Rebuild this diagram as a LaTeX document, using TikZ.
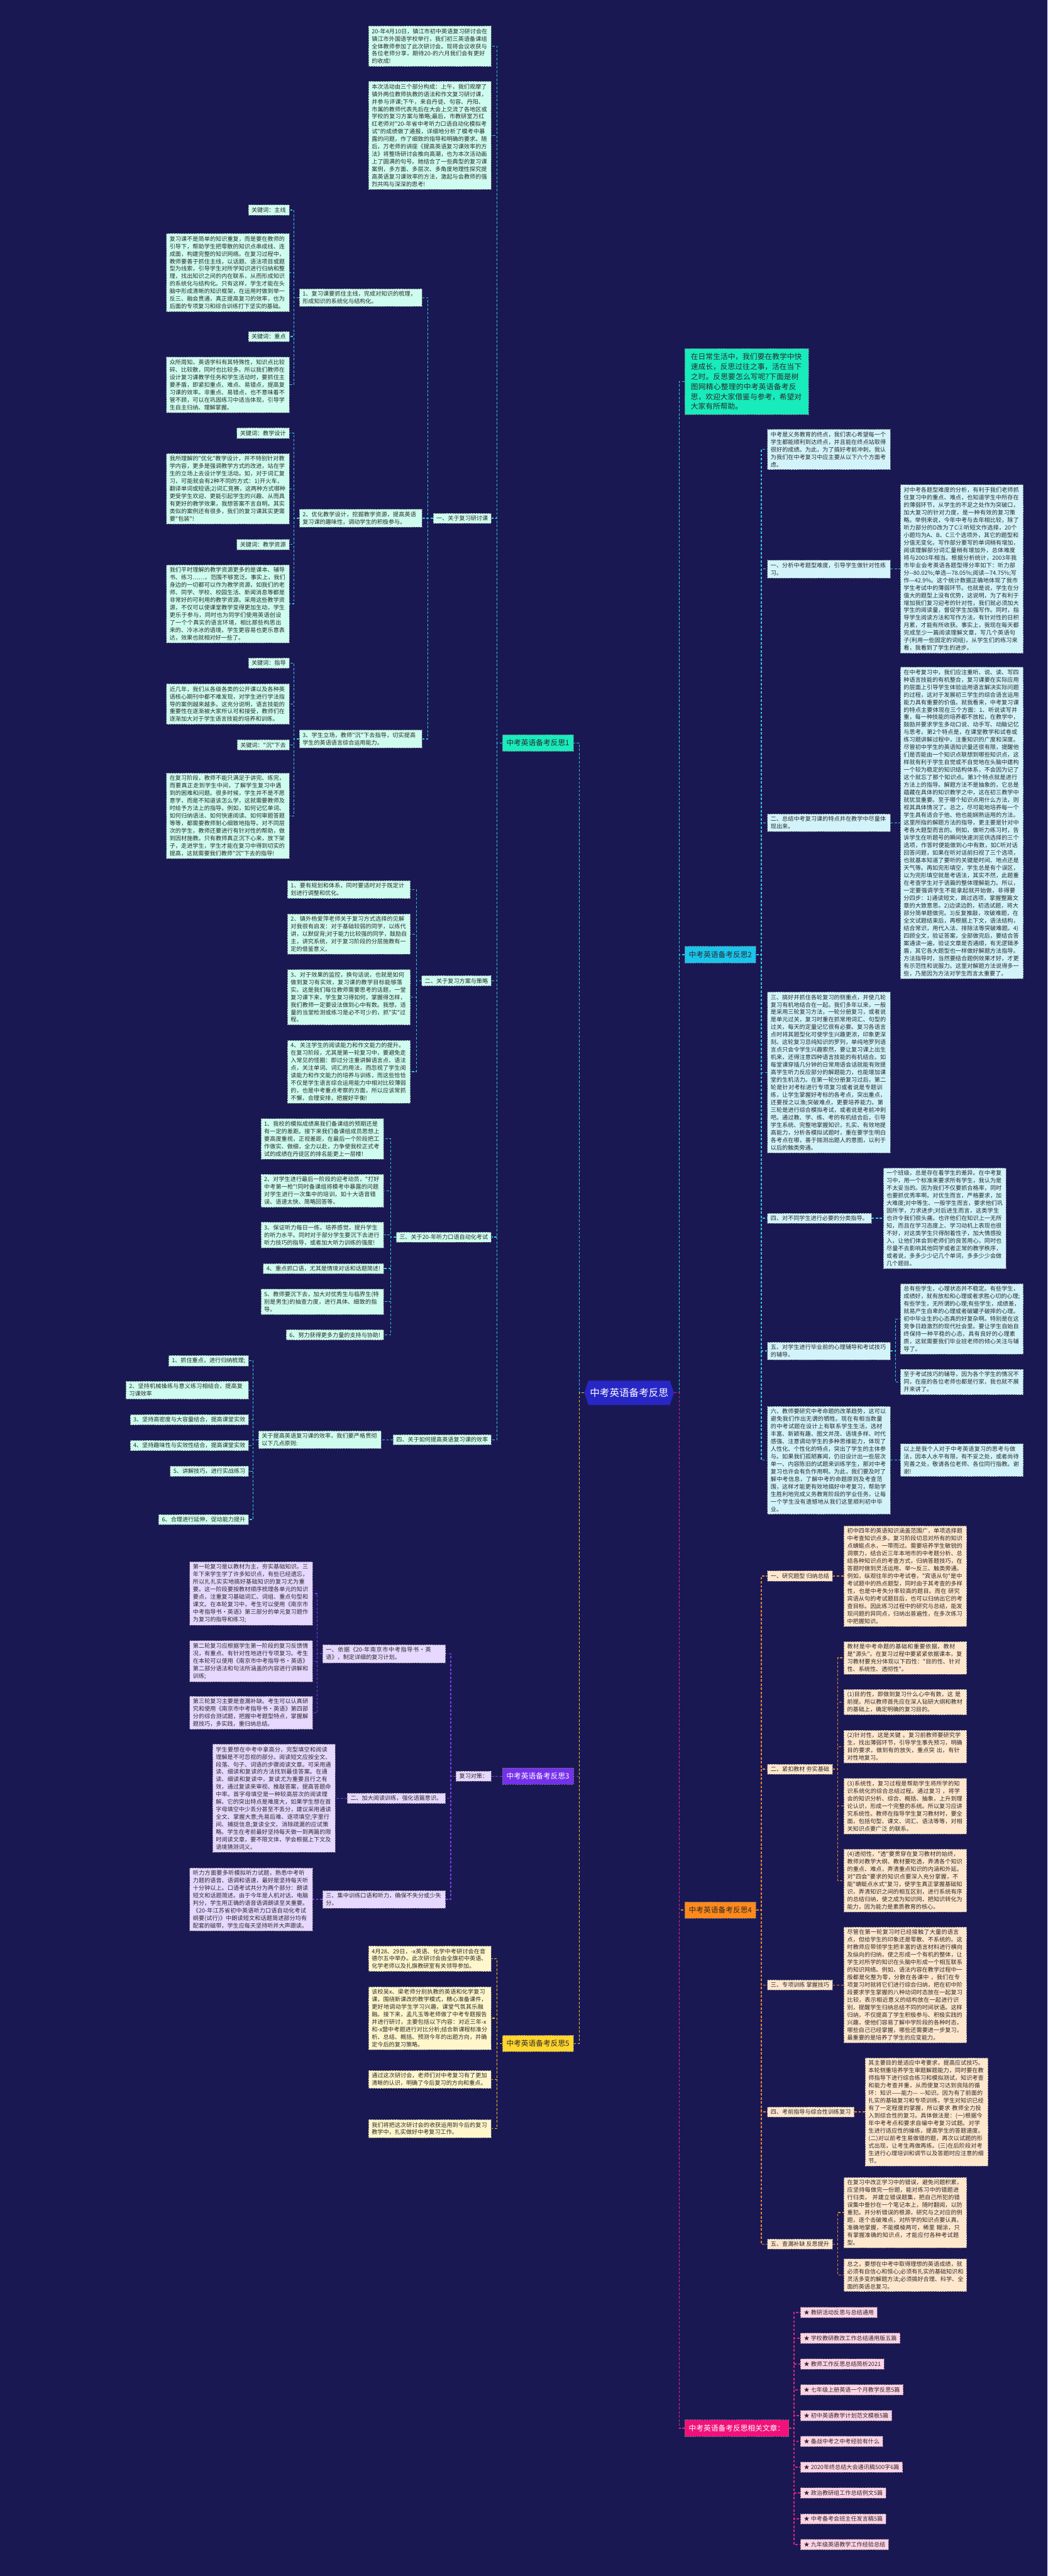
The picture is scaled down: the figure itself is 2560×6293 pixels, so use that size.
\documentclass[tikz,border=0pt]{standalone}
\usepackage{fontspec}
\newfontfamily\cjk{Noto Sans CJK SC}
\usetikzlibrary{shapes.symbols}
\XeTeXlinebreaklocale "zh"
\XeTeXlinebreakskip = 0pt plus 1pt
\definecolor{bgc}{HTML}{1A1853}
\definecolor{bd}{HTML}{6E6E78}
\definecolor{tx}{HTML}{2A2A2A}
\definecolor{fA}{HTML}{CEFCEE}
\definecolor{fB}{HTML}{D2F3FA}
\definecolor{fC}{HTML}{E6D8FF}
\definecolor{fD}{HTML}{FFE7CE}
\definecolor{fE}{HTML}{FFF6CC}
\definecolor{fF}{HTML}{FFD3E6}
\definecolor{lnA}{HTML}{2FC6DF}
\definecolor{lnC}{HTML}{7A3DE6}
\definecolor{lnD}{HTML}{E8842C}
\definecolor{lnE}{HTML}{F2C41C}
\definecolor{lnF}{HTML}{E0237E}
\definecolor{labA}{HTML}{18EBBC}
\definecolor{labB}{HTML}{19C5EC}
\definecolor{labC}{HTML}{7530EC}
\definecolor{labD}{HTML}{FF8A1A}
\definecolor{labE}{HTML}{FFD52E}
\definecolor{labF}{HTML}{F0127A}
\definecolor{ctrc}{HTML}{2727C6}
\tikzset{
  base/.style={font=\cjk\fontsize{14}{18.4}\selectfont, align=left, inner xsep=8pt, inner ysep=6pt, draw=bd, dash pattern=on 4pt off 2pt, line width=0.9pt, text=tx},
  bxA/.style={base, fill=fA, text width=284pt},
  kwA/.style={base, fill=fA},
  bxB/.style={base, fill=fB, text width=284pt},
  bxC/.style={base, fill=fC, text width=284pt},
  kwC/.style={base, fill=fC},
  bxD/.style={base, fill=fD, text width=284pt},
  kwD/.style={base, fill=fD},
  bxE/.style={base, fill=fE, text width=284pt},
  kwF/.style={base, fill=fF},
  lab/.style={font=\cjk\fontsize{18}{22}\selectfont, inner xsep=10pt, inner ysep=12pt, draw=bd, dash pattern=on 4pt off 2pt, line width=0.9pt},
  cA/.style={draw=lnA, line width=2pt, dash pattern=on 6pt off 4pt},
  cC/.style={draw=lnC, line width=2pt, dash pattern=on 6pt off 4pt},
  cD/.style={draw=lnD, line width=2pt, dash pattern=on 6pt off 4pt},
  cE/.style={draw=lnE, line width=2pt, dash pattern=on 6pt off 4pt},
  cF/.style={draw=lnF, line width=2pt, dash pattern=on 6pt off 4pt},
}
\newcommand\connL[3]{\draw[#1] (#2.west) -- ++(-12.5,0) |- (#3.east);}
\newcommand\connR[3]{\draw[#1] (#2.east) -- ++(12.5,0) |- (#3.west);}
\begin{document}
\begin{tikzpicture}[x=1pt,y=-1pt]
\fill[bgc] (0,0) rectangle (2560,6293);
\useasboundingbox (0,0) rectangle (2560,6293);

% ---------- centre ----------
\fill[ctrc] (1438,3373) -- (1637,3373) -- (1647,3402.5) -- (1637,3432) -- (1438,3432) -- (1428,3402.5) -- cycle;
\node[font=\cjk\fontsize{24}{28}\selectfont, text=white, minimum width=219pt, minimum height=59pt, inner sep=0pt] (ctr) at (1537.5,3402.5) {中考英语备考反思};

% ---------- main labels ----------
\node[lab, fill=labA, text=tx, anchor=east] (L1) at (1402,1815) {中考英语备考反思1};
\node[lab, fill=labC, text=white, anchor=east] (L3) at (1402,4339) {中考英语备考反思3};
\node[lab, fill=labE, text=tx, anchor=east] (L5) at (1402,4992) {中考英语备考反思5};
\node[lab, fill=labB, text=tx, anchor=west] (L2) at (1673,2332) {中考英语备考反思2};
\node[lab, fill=labD, text=tx, anchor=west] (L4) at (1673,4666) {中考英语备考反思4};
\node[lab, fill=labF, text=white, anchor=west] (Lr) at (1673,5932) {中考英语备考反思相关文章：};
\node[font=\cjk\fontsize{18}{24.5}\selectfont, align=left, text width=273pt, inner xsep=15pt, inner ysep=11pt, fill=labA, draw=bd, dash pattern=on 4pt off 2pt, line width=0.9pt, text=tx, anchor=west] (intro) at (1673,932) {在日常生活中，我们要在教学中快速成长，反思过往之事，活在当下之时。反思要怎么写呢?下面是树图网精心整理的中考英语备考反思，欢迎大家借鉴与参考，希望对大家有所帮助。};

% ---------- branch 1 ----------
\node[bxA, anchor=east] (A1) at (1201,113) {20-年4月10日，镇江市初中英语复习研讨会在镇江市外国语学校举行，我们初三英语备课组全体教师参加了此次研讨会。现将会议收获与各位老师分享，期待20-的六月我们会有更好的收成!};
\node[bxA, anchor=east] (A2) at (1201,331) {本次活动由三个部分构成：上午，我们观摩了镇外两位教师执教的语法和作文复习研讨课，并参与评课;下午，来自丹徒、句容、丹阳、市属的教师代表先后在大会上交流了各地区或学校的复习方案与策略;最后，市教研室万红红老师对"20-年省中考听力口语自动化模拟考试"的成绩做了通报，详细地分析了模考中暴露的问题，作了细致的指导和明确的要求。随后，万老师的讲座《提高英语复习课效率的方法》将整场研讨会推向高潮，也为本次活动画上了圆满的句号。她结合了一些典型的复习课案例，多方面、多层次、多角度地理性探究提高英语复习课效率的方法，激起与会教师的强烈共鸣与深深的思考!};
\node[kwA, anchor=east] (B1) at (1201,1266) {一、关于复习研讨课};
\node[kwA, anchor=east] (B2) at (1201,2396) {二、关于复习方案与策略};
\node[kwA, anchor=east] (B3) at (1201,3022) {三、关于20-年听力口语自动化考试};
\node[kwA, anchor=east] (B4) at (1201,3517) {四、关于如何提高英语复习课的效率};

\node[bxA, anchor=east] (i1) at (1032,727) {1、复习课要抓住主线，完成对知识的梳理，形成知识的系统化与结构化。};
\node[bxA, anchor=east] (i2) at (1032,1266) {2、优化教学设计，挖掘教学资源，提高英语复习课的趣味性，调动学生的积极参与。};
\node[bxA, anchor=east] (i3) at (1032,1805) {3、学生立场，教师"沉"下去指导，切实提高学生的英语语言综合运用能力。};

\node[kwA, anchor=east] (k11) at (707,513) {关键词：主线};
\node[bxA, anchor=east] (t11) at (707,666) {复习课不是简单的知识重复，而是要在教师的引导下，帮助学生把零散的知识点串成线、连成面，构建完整的知识网络。在复习过程中，教师要善于抓住主线，以话题、语法项目或题型为线索，引导学生对所学知识进行归纳和整理，找出知识之间的内在联系，从而形成知识的系统化与结构化。只有这样，学生才能在头脑中形成清晰的知识框架，在运用时做到举一反三、融会贯通，真正提高复习的效率，也为后面的专项复习和综合训练打下坚实的基础。};
\node[kwA, anchor=east] (k12) at (707,822) {关键词：重点};
\node[bxA, anchor=east] (t12) at (707,940) {众所周知，英语学科有其特殊性，知识点比较碎、比较散，同时也比较多。所以我们教师在设计复习课教学任务和学生活动时，要抓住主要矛盾，即紧扣重点、难点、易错点，提高复习课的效率。非重点、易错点，也不意味着不管不顾，可以在巩固练习中适当体现，引导学生自主归纳、理解掌握。};
\node[kwA, anchor=east] (k21) at (707,1058) {关键词：教学设计};
\node[bxA, anchor=east] (t21) at (707,1194) {我所理解的"优化"教学设计，并不特别针对教学内容，更多是强调教学方式的改进，站在学生的立场上去设计学生活动。如，对于词汇复习，可能就会有2种不同的方式：1)开火车，翻译单词或短语;2)词汇竞赛，这两种方式哪种更受学生欢迎、更能引起学生的兴趣、从而具有更好的教学效果，我想答案不言自明。其实类似的案例还有很多，我们的复习课其实更需要"包装"!};
\node[kwA, anchor=east] (k22) at (707,1330) {关键词：教学资源};
\node[bxA, anchor=east] (t22) at (707,1475) {我们平时理解的教学资源更多的是课本、辅导书、练习……，范围不够宽泛。事实上，我们身边的一切都可以作为教学资源，如我们的老师、同学、学校、校园生活、新闻消息等都是非常好的可利用的教学资源。采用这些教学资源，不仅可以使课堂教学变得更加生动，学生更乐于参与，同时也为同学们使用英语创设了一个个真实的语言环境，相比那些构思出来的、冷冰冰的语境，学生更容易也更乐意表达，效果也就相对好一些了。};
\node[kwA, anchor=east] (k31) at (707,1620) {关键词：指导};
\node[bxA, anchor=east] (t31) at (707,1720) {近几年，我们从各级各类的公开课以及各种英语核心期刊中都不难发现，对学生进行学法指导的案例越来越多。这充分说明，语言技能的重要性在逐渐被大家所认可和接受，教师们在逐渐加大对于学生语言技能的培养和训练。};
\node[kwA, anchor=east] (k32) at (707,1820) {关键词："沉"下去};
\node[bxA, anchor=east] (t32) at (707,1993) {在复习阶段，教师不能只满足于讲完、练完，而要真正走到学生中间，了解学生复习中遇到的困难和问题。很多时候，学生并不是不愿意学，而是不知道该怎么学，这就需要教师及时给予方法上的指导。例如，如何记忆单词、如何归纳语法、如何快速阅读、如何审题答题等等，都需要教师耐心细致地指导。对不同层次的学生，教师还要进行有针对性的帮助，做到因材施教。只有教师真正沉下心来，放下架子，走进学生，学生才能在复习中得到切实的提高，这就需要我们教师"沉"下去的指导!};

\node[bxA, anchor=east] (j1) at (1003,2173) {1、要有规划和体系，同时要适时对于既定计划进行调整和优化。};
\node[bxA, anchor=east] (j2) at (1003,2282) {2、镇外杨爱萍老师关于复习方式选择的见解对我很有启发：对于基础较弱的同学，以练代讲，以默促背;对于能力比较强的同学，鼓励自主，讲究系统，对于复习阶段的分层施教有一定的借鉴意义。};
\node[bxA, anchor=east] (j3) at (1003,2436) {3、对于效果的监控，换句话说，也就是如何做到复习有实效，复习课的教学目标能够落实。这是我们每位教师需要思考的话题，一堂复习课下来，学生复习得如何，掌握得怎样，我们教师一定要设法做到心中有数。我想，适量的当堂检测或练习是必不可少的，抓"实"过程。};
\node[bxA, anchor=east] (j4) at (1003,2618) {4、关注学生的阅读能力和作文能力的提升。在复习阶段，尤其是第一轮复习中，要避免走入常见的怪圈：即过分注重讲解语言点、语法点，关注单词、词汇的用法，而忽视了学生阅读能力和作文能力的培养与训练，而这些恰恰不仅是学生语言综合运用能力中相对比较薄弱的，也是中考重点考察的方面，所以应该常抓不懈，合理安排，把握好平衡!};

\node[bxA, anchor=east] (m1) at (938,2782) {1、我校的模拟成绩离我们备课组的预期还是有一定的差距。接下来我们备课组成员思想上要高度重视，正视差距，在最后一个阶段把工作做实、做细，全力以赴，力争使我校正式考试的成绩在丹徒区的排名能更上一层楼!};
\node[bxA, anchor=east] (m2) at (938,2909) {2、对学生进行最后一阶段的迎考动员，"打好中考第一枪"!同时备课组将模考中暴露的问题对学生进行一次集中的培训，如十大语音错误、语速太快、简略回答等。};
\node[bxA, anchor=east] (m3) at (938,3017) {3、保证听力每日一练，培养感觉，提升学生的听力水平。同时对于部分学生要沉下去进行听力技巧的指导，或者加大听力训练的强度!};
\node[kwA, anchor=east] (m4) at (938,3099) {4、重点抓口语，尤其是情境对话和话题简述!};
\node[bxA, anchor=east] (m5) at (938,3180) {5、教师要沉下去，加大对优秀生与临界生(特别是男生)的抽查力度，进行具体、细致的指导。};
\node[kwA, anchor=east] (m6) at (938,3261) {6、努力获得更多力量的支持与协助!};

\node[bxA, anchor=east] (n1) at (932,3517) {关于提高英语复习课的效率，我们要严格贯彻以下几点原则:};
\node[kwA, anchor=east] (p1) at (608,3324) {1、抓住重点，进行归纳梳理;};
\node[bxA, anchor=east] (p2) at (608,3396) {2、坚持机械操练与意义练习相结合，提高复习课效率};
\node[kwA, anchor=east] (p3) at (608,3468) {3、坚持高密度与大容量结合，提高课堂实效};
\node[kwA, anchor=east] (p4) at (608,3531) {4、坚持趣味性与实效性结合，提高课堂实效};
\node[kwA, anchor=east] (p5) at (608,3594) {5、讲解技巧，进行实战练习};
\node[kwA, anchor=east] (p6) at (608,3712) {6、合理进行延伸，促动能力提升};

% ---------- branch 3 ----------
\node[kwC, anchor=east] (q0) at (1201,4339) {复习对策：};
\node[bxC, anchor=east] (q1) at (1089,4040) {一、依据《20-年南京市中考指导书·英语》，制定详细的复习计划。};
\node[kwC, anchor=east] (q2) at (1089,4393) {二、加大阅读训练，强化语篇意识。};
\node[bxC, anchor=east] (q3) at (1089,4640) {三、集中训练口语和听力，确保不失分或少失分。};
\node[bxC, anchor=east] (r1) at (764,3893) {第一轮复习是以教材为主，夯实基础知识。三年下来学生学了许多知识点，有些已经遗忘，所以扎扎实实地搞好基础知识的复习尤为重要。这一阶段要按教材顺序梳理各单元的知识要点，注重复习基础词汇、词组、重点句型和课文。在本轮复习中，考生可以使用《南京市中考指导书·英语》第三部分的单元复习题作为复习的指导和练习;};
\node[bxC, anchor=east] (r2) at (764,4058) {第二轮复习应根据学生第一阶段的复习反馈情况，有重点、有针对性地进行专项复习。考生在本轮可以使用《南京市中考指导书·英语》第二部分语法和句法所涵盖的内容进行讲解和训练;};
\node[bxC, anchor=east] (r3) at (764,4184) {第三轮复习主要是查漏补缺。考生可以认真研究和使用《南京市中考指导书·英语》第四部分的综合测试题，把握中考题型特点，掌握解题技巧，多实践，重归纳总结。};
\node[bxC, anchor=east] (s1) at (820,4393) {学生要想在中考中拿高分，完型填空和阅读理解是不可忽视的部分。阅读短文应按全文、段落、句子、词语的步骤阅读文章。可采用通读、细读和复读的方法找到最佳答案。在通读、细读和复读中，复读尤为重要且行之有效，通过复读来审视、推敲答案，提高答题命中率。首字母填空是一种较高层次的阅读理解。它的突出特点是难度大，如果学生想在首字母填空中少丢分甚至不丢分，建议采用通读全文、掌握大意;先易后难、逐项填空;字里行间、捕捉信息;复读全文、消除疏漏的应试策略。学生在考前最好坚持每天做一到两篇的限时阅读文章，要不限文体，学会根据上下文及语境猜测词义。};
\node[bxC, anchor=east] (u1) at (764,4640) {听力方面要多听模拟听力试题，熟悉中考听力题的语音、语调和语速，最好是坚持每天听十分钟以上。口语考试共分为两个部分：朗读短文和话题简述。由于今年是人机对话，电脑判分，学生用正确的语音语调朗读至关重要。《20-年江苏省初中英语听力口语自动化考试纲要(试行)》中朗读短文和话题简述部分均有配套的磁带，学生应每天坚持听并大声跟读。};

% ---------- branch 5 ----------
\node[bxE, anchor=east] (v1) at (1201,4785) {4月28、29日，-x英语、化学中考研讨会在音德尔五中举办。此次研讨会由全旗初中英语、化学老师以及扎旗教研室有关领导参加。};
\node[bxE, anchor=east] (v2) at (1201,4930) {该校吴x、梁老师分别执教的英语和化学复习课，围绕新课改的教学模式，精心准备课件，更好地调动学生学习兴趣，课堂气氛其乐融融。接下来，孟凡玉等老师做了中考专题报告并进行研讨，主要包括以下内容：对近三年-x和-x盟中考题进行对比分析;结合新课程标准分析、总结、概括、预测今年的出题方向，并确定今后的复习策略。};
\node[bxE, anchor=east] (v3) at (1201,5080) {通过这次研讨会，老师们对中考复习有了更加清晰的认识，明确了今后复习的方向和重点。};
\node[bxE, anchor=east] (v4) at (1201,5200) {我们将把这次研讨会的收获运用到今后的复习教学中，扎实做好中考复习工作。};

% ---------- branch 2 ----------
\node[bxB, anchor=west] (w1) at (1875,1098) {中考是义务教育的终点，我们衷心希望每一个学生都能顺利到达终点，并且能在终点站取得很好的成绩。为此，为了搞好考前冲刺，我认为我们在中考复习中应主要从以下六个方面考虑。};
\node[bxB, anchor=west] (w2) at (1875,1390) {一、分析中考题型难度，引导学生做针对性练习。};
\node[bxB, anchor=west] (w2a) at (2200,1390) {对中考各题型难度的分析，有利于我们老师抓住复习中的重点、难点，也知道学生中所存在的薄弱环节，从学生的不足之处作为突破口，加大复习的针对力度，是一种有效的复习策略。举例来说，今年中考与去年相比较，除了听力部分的D改为了C②听短文作选择，20个小题均为A、B、C三个选项外，其它的题型和分值无变化，写作部分要写的单词稍有增加，阅读理解部分词汇量稍有增加外，总体难度将与2003年相当。根据分析统计，2003年我市毕业会考英语各题型得分率如下：听力部分--80.02\%;单选—78.05\%;阅读—74.75\%;写作—42.9\%。这个统计数据正确地体现了我市学生考试中的薄弱环节。也就是说，学生在分值大的题型上没有优势，这说明，为了有利于增加我们复习迎考的针对性，我们就必须加大学生的阅读量，督促学生加强写作。同时，指导学生阅读方法和写作方法，有针对性的日积月累，才能有所收获。事实上，我现在每天都完成至少一篇阅读理解文章，写几个英语句子(利用一些固定的词组)，从学生们的练习来看，我看到了学生的进步。};
\node[bxB, anchor=west] (w3) at (1875,2010) {二、总结中考复习课的特点并在教学中尽量体现出来。};
\node[bxB, anchor=west] (w3a) at (2200,2010) {在中考复习中，我们应注重听、说、读、写四种语言技能的有机整合，复习课要在实际应用的层面上引导学生体验运用语言解决实际问题的过程，这对于发展初三学生的综合语言运用能力具有重要的价值。就我看来，中考复习课的特点主要体现在三个方面：1、听说读写并重，每一种技能的培养都不放松，在教学中，鼓励并要求学生多动口说、动手写、动脑记忆与思考。第2个特点是，在课堂教学和试卷或练习题讲解过程中，注重知识的广度和深度。尽管初中学生的英语知识量还很有限，提醒他们是否能由一个知识点联想到哪些知识点，这样就有利于学生自觉或不自觉地在头脑中建构一个较为稳定的知识结构体系，不会因为记了这个就忘了那个知识点。第3个特点就是进行方法上的指导。解题方法不是抽象的，它总是蕴藏在具体的知识教学之中，这在初三教学中就犹显重要。至于哪个知识点用什么方法，则视其具体情况了。总之，尽可能地培养每一个学生具有适合于他、他也能娴熟运用的方法。这里所指的解题方法的指导，更主要是针对中考各大题型而言的。例如，做听力练习时，告诉学生在听题号的瞬间快速浏览供选择的三个选项，作答时便能做到心中有数，如C听对话回答问题，如果在听对话前扫视了三个选项，也就基本知道了要听的关键是时间、地点还是天气等。再如完形填空，学生总是有个误区，以为完形填空就是考语法，其实不然，此题重在考查学生对于语篇的整体理解能力。所以，一定要强调学生不能拿起就开始做，非得要分四步：1)通读短文，跳过选项，掌握整篇文章的大致意思。2)边读边酌，初选试题，将大部分简单题做完。3)反复推敲，攻破难题，在全文试题结束后，再根据上下文，语法结构，结合常识，用代入法、排除法等突破难题。4)四顾全文，验证答案，全部做完后，要结合答案通读一遍，验证文章是否通顺，有无逻辑矛盾，其它各大题型也一样做好解题方法指导。方法指导时，当然要结合题例效果才好，才更有示范性和说服力。这里对解题方法说得多一些，乃是因为方法对学生而言太重要了。};
\node[bxB, anchor=west] (w4) at (1875,2620) {三、搞好并抓住各轮复习的侧重点，并使几轮复习有机地结合在一起。我们多年以来，一般是采用三轮复习方法，一轮分册复习，或者说是单元过关，复习时重在抓常用词汇、句型的过关，每天的定量记忆很有必要。复习各语言点时将其题型化可使学生兴趣更浓，印象更深刻。这轮复习忌纯知识的罗列，单纯地罗列语言点只会令学生兴趣索然，要让复习课上出生机来，还得注意四种语言技能的有机结合。如每堂课穿插几分钟的日常用语会话就能有效提高学生听力反应部分的解题能力，也能增加课堂的生机活力。在第一轮分册复习过后，第二轮是针对考标进行专项复习或者说是专题训练，让学生掌握好考标的各考点，突出重点，还要授之以渔;突破难点，更要培养能力。第三轮是进行综合模拟考试，或者说是考前冲刺吧。通过教、学、练、考的有机结合后，引导学生系统、完整地掌握知识，扎实、有效地提高能力，分析各模拟试题时，重在要学生明白各考点在哪，善于揣测出题人的意图，以利于以后的触类旁通。};
\node[base, fill=fB, anchor=west] (w5) at (1875,2976) {四、对不同学生进行必要的分类指导。};
\node[bxB, anchor=west] (w5a) at (2158,2976) {一个班级，总是存在着学生的差异。在中考复习中，用一个标准来要求所有学生，我认为是不太妥当的。因为我们不仅要抓合格率，同时也要抓优秀率啊。对优生而言，严格要求，加大难度;对中等生、一般学生而言，要求他们巩固所学，力求进步;对后进生而言，这类学生也许令我们很头痛，也许他们在知识上一无所知，而且在学习态度上、学习动机上表现也很不好，对这类学生只得耐着性子，加大情感投入，让他们体会到老师们的良苦用心，同时也尽量不去影响其他同学或者正常的教学秩序，或者说，多多少少记几个单词，多多少少会做几个题目。};
\node[bxB, anchor=west] (w6) at (1875,3300) {五、对学生进行毕业前的心理辅导和考试技巧的辅导。};
\node[bxB, anchor=west] (w6a) at (2200,3222) {总有些学生，心理状态并不稳定。有些学生，成绩好，就有放松和心理或者求胜心切的心理;有些学生，无所谓的心理;有些学生，成绩差，就易产生自卑的心理或者破罐子破摔的心理。初中毕业生的心态真的好复杂啊。特别是在这竞争日趋激烈的现代社会里。要让学生自始自终保持一种平稳的心态，具有良好的心理素质，这就需要我们毕业班老师的倾心关注与辅导了。};
\node[bxB, anchor=west] (w6b) at (2200,3376) {至于考试技巧的辅导，因为各个学生的情况不同，在座的各位老师也都是行家，我也就不展开来讲了。};
\node[bxB, anchor=west] (w7) at (1875,3567) {六、教师要研究中考命题的改革趋势，这可以避免我们作出无谓的牺牲。现在有相当数量的中考试题在设计上有联系学生生活，选材丰富、新颖有趣、图文并茂、语境多样、时代感强、注意调动学生的多种思维能力，体现了人性化、个性化的特点，突出了学生的主体参与。如果我们孤陋寡闻，仍旧设计出一些层次单一、内容陈旧的试题来训练学生，那对中考复习也许会有负作用啊。为此，我们要及时了解中考信息，了解中考的命题原则及考查范围，这样才能更有效地搞好中考复习，帮助学生胜利地完成义务教育阶段的学业任务，让每一个学生没有遗憾地从我们这里顺利初中毕业。};
\node[bxB, anchor=west] (w7a) at (2200,3567) {以上是我个人对于中考英语复习的思考与做法，因本人水平有限，有不妥之处，或者尚待完善之处，敬请各位老师、各位同行指教。谢谢!};

% ---------- branch 4 ----------
\node[kwD, anchor=west] (x1) at (1875,3850) {一、研究题型 归纳总结};
\node[bxD, anchor=west] (x1a) at (2062,3850) {初中四年的英语知识涵盖范围广，单项选择题中考查知识点多。复习阶段切忌对所有的知识点蜻蜓点水，一带而过。需要培养学生敏锐的洞察力，结合近三年本地市的中考题分析、总结各种知识点的考查方式，归纳答题技巧，在答题时做到灵活运用、举～反三、触类旁通。例如，纵观往年的中考试卷，"宾语从句"是中考试题中的热点题型，同时由于其考查的多样性，也是中考失分率较高的题目。而在 研究宾语从句的考试题目后，也可以归纳出它的考查目标。因此练习过程中的研究与总结，能发现问题的异同点，归纳出普遍性，在多次练习中把握知识。};
\node[kwD, anchor=west] (x2) at (1875,4322) {二、紧扣教材 夯实基础};
\node[bxD, anchor=west] (x2a) at (2062,4050) {教材是中考命题的基础和重要依据，教材是"源头"。在复习过程中要紧紧依据课本，复习教材要充分体现以下四性："目的性、针对性、系统性、透彻性"。};
\node[bxD, anchor=west] (x2b) at (2062,4158) {(1)目的性，即做到复习什么心中有数，这 是前提。所以教师首先应在深人钻研大纲和教材的基础上，确定明确的复习目的。};
\node[bxD, anchor=west] (x2c) at (2062,4267) {(2)针对性，这是关键 。复习前教师要研究学生，找出薄弱环节，引导学生事先预习，明确目的要求，做到有的放矢，重点突 出，有针对性地复习。};
\node[bxD, anchor=west] (x2d) at (2062,4412) {(3)系统性，复习过程是帮助学生将所学的知识系统化的综合总结过程。通过复习 ，将学会的知识分析、综合、概括、抽象，上升到理论认识，形成一个完整的系统。所以复习应讲究系统性。教师在指导学生复习教材时，要全面，包括句型、课文、词汇、语法等等，对相关知识点要广泛 的联系。};
\node[bxD, anchor=west] (x2e) at (2062,4594) {(4)透彻性，"透"要贯穿在复习教材的始终，教师对教学大纲、教材要吃透，弄清各个知识的重点、难点，弄清重点知识的内涵和外延。对"四会"要求的知识点要深入充分掌握，不能"蜻蜓点水式"复习，使学生真正掌握基础知识，弄清知识之间的相互区别，进行系统有序的总结归纳，使之成为知识网，把知识转化为能力，因为能力是素质教育的核心。};
\node[kwD, anchor=west] (x3) at (1875,4849) {三、专项训练 掌握技巧};
\node[bxD, anchor=west] (x3a) at (2062,4849) {尽管在第一轮复习时已经接触了大量的语言点，但给学生的印象还是零散、不系统的。这时教师应带领学生把丰富的语言材料进行横向及纵向的归纳，使之形成一个有机的整体，让学生对所学的知识在头脑中形成一个相互联系的知识网络。例如，语法内容在教学过程中一般都是化整为零，分散在各课中 ，我们在专项复习时就将它们进行综合归纳，把在初中阶段要求学生掌握的八种动词时态放在一起复习比较，表示相近意义的结构放在一起进行识别，提醒学生归纳总结不同的时间状语。这样归纳，不仅提高了学生积极参与、积极实践的兴趣，使他们容易了解中学阶段的各种时态，哪些自己已经掌握，哪些还需要进一步复习，最重要的是培养了学生的应变能力。};
\node[kwD, anchor=west] (x4) at (1875,5159) {四、考前指导与综合性训练复习};
\node[bxD, anchor=west] (x4a) at (2114,5159) {其主要目的是适应中考要求，提高应试技巧。本轮侧重培养学生审题解题能力，同时要在教师指导下进行综合练习和模拟测试，知识考查和能力考查并重，从而使复习达到良陆的循环：知识——能力— —知识。因为有了前面的扎实的基础复习和专项训练，学生对知识已经有了一定程度的掌握，所以要求 教师全力投入到综合性的复习。具体做法是：(一)根据今年中考考点和要求自编中考复习试题。对学生进行适应性的操练，提高学生的答题速度。(二)对以前考生易做错的题，再次以试题的形式出现，让考生再做再练。(三)在后阶段对考生进行心理培训和调节以及答题时应注意的细节。};
\node[kwD, anchor=west] (x5) at (1875,5482) {五、查漏补缺 反思提升};
\node[bxD, anchor=west] (x5a) at (2062,5405) {在复习中改正学习中的错误，避免问题积累，应坚持每做完一份题，能对练习中的错题进行归类， 并建立错误题集，把自己所犯的错误集中誊抄在一个笔记本上，随时翻阅，以防重犯。并分析错误的根源，研究与之对应的例题，逐个击破难点，对所学的知识点要认真、准确地掌握，不能模棱两可，稀里 糊涂，只有掌握准确的知识点，才能应付各种考试题型。};
\node[bxD, anchor=west] (x5b) at (2062,5558) {总之，要想在中考中取得理想的英语成绩，就必须有自信心和恒心;必须有扎实的基础知识和灵活多变的解题方法;必须搞好合理、科学、全面的英语总复习。};

% ---------- related ----------
\node[kwF, anchor=west] (y1) at (1956,5649) {★ 教研活动反思与总结通用};
\node[kwF, anchor=west] (y2) at (1956,5712) {★ 学校教研教改工作总结通用版五篇};
\node[kwF, anchor=west] (y3) at (1956,5775) {★ 教师工作反思总结简析2021};
\node[kwF, anchor=west] (y4) at (1956,5838) {★ 七年级上册英语一个月教学反思5篇};
\node[kwF, anchor=west] (y5) at (1956,5901) {★ 初中英语教学计划范文模板5篇};
\node[kwF, anchor=west] (y6) at (1956,5964) {★ 备战中考之中考经验有什么};
\node[kwF, anchor=west] (y7) at (1956,6027) {★ 2020年终总结大会通讯稿500字6篇};
\node[kwF, anchor=west] (y8) at (1956,6090) {★ 政治教研组工作总结例文5篇};
\node[kwF, anchor=west] (y9) at (1956,6153) {★ 中考备考会班主任发言稿5篇};
\node[kwF, anchor=west] (y10) at (1956,6216) {★ 九年级英语教学工作经验总结};

% ---------- connectors ----------
\connL{cA}{ctr}{L1}
\connL{cC}{ctr}{L3}
\connL{cE}{ctr}{L5}
\connR{cA}{ctr}{intro}
\connR{cA}{ctr}{L2}
\connR{cD}{ctr}{L4}
\connR{cF}{ctr}{Lr}

\foreach \c in {A1,A2,B1,B2,B3,B4} {\connL{cA}{L1}{\c}}
\foreach \c in {i1,i2,i3} {\connL{cA}{B1}{\c}}
\foreach \c in {k11,t11,k12,t12} {\connL{cA}{i1}{\c}}
\foreach \c in {k21,t21,k22,t22} {\connL{cA}{i2}{\c}}
\foreach \c in {k31,t31,k32,t32} {\connL{cA}{i3}{\c}}
\foreach \c in {j1,j2,j3,j4} {\connL{cA}{B2}{\c}}
\foreach \c in {m1,m2,m3,m4,m5,m6} {\connL{cA}{B3}{\c}}
\connL{cA}{B4}{n1}
\foreach \c in {p1,p2,p3,p4,p5,p6} {\connL{cA}{n1}{\c}}

\connL{cC}{L3}{q0}
\foreach \c in {q1,q2,q3} {\connL{cC}{q0}{\c}}
\foreach \c in {r1,r2,r3} {\connL{cC}{q1}{\c}}
\connL{cC}{q2}{s1}
\connL{cC}{q3}{u1}

\foreach \c in {v1,v2,v3,v4} {\connL{cE}{L5}{\c}}

\foreach \c in {w1,w2,w3,w4,w5,w6,w7} {\connR{cA}{L2}{\c}}
\connR{cA}{w2}{w2a}
\connR{cA}{w3}{w3a}
\connR{cA}{w5}{w5a}
\connR{cA}{w6}{w6a}
\connR{cA}{w6}{w6b}
\connR{cA}{w7}{w7a}

\foreach \c in {x1,x2,x3,x4,x5} {\connR{cD}{L4}{\c}}
\connR{cD}{x1}{x1a}
\foreach \c in {x2a,x2b,x2c,x2d,x2e} {\connR{cD}{x2}{\c}}
\connR{cD}{x3}{x3a}
\connR{cD}{x4}{x4a}
\connR{cD}{x5}{x5a}
\connR{cD}{x5}{x5b}

\foreach \c in {y1,y2,y3,y4,y5,y6,y7,y8,y9,y10} {\connR{cF}{Lr}{\c}}
\end{tikzpicture}
\end{document}
